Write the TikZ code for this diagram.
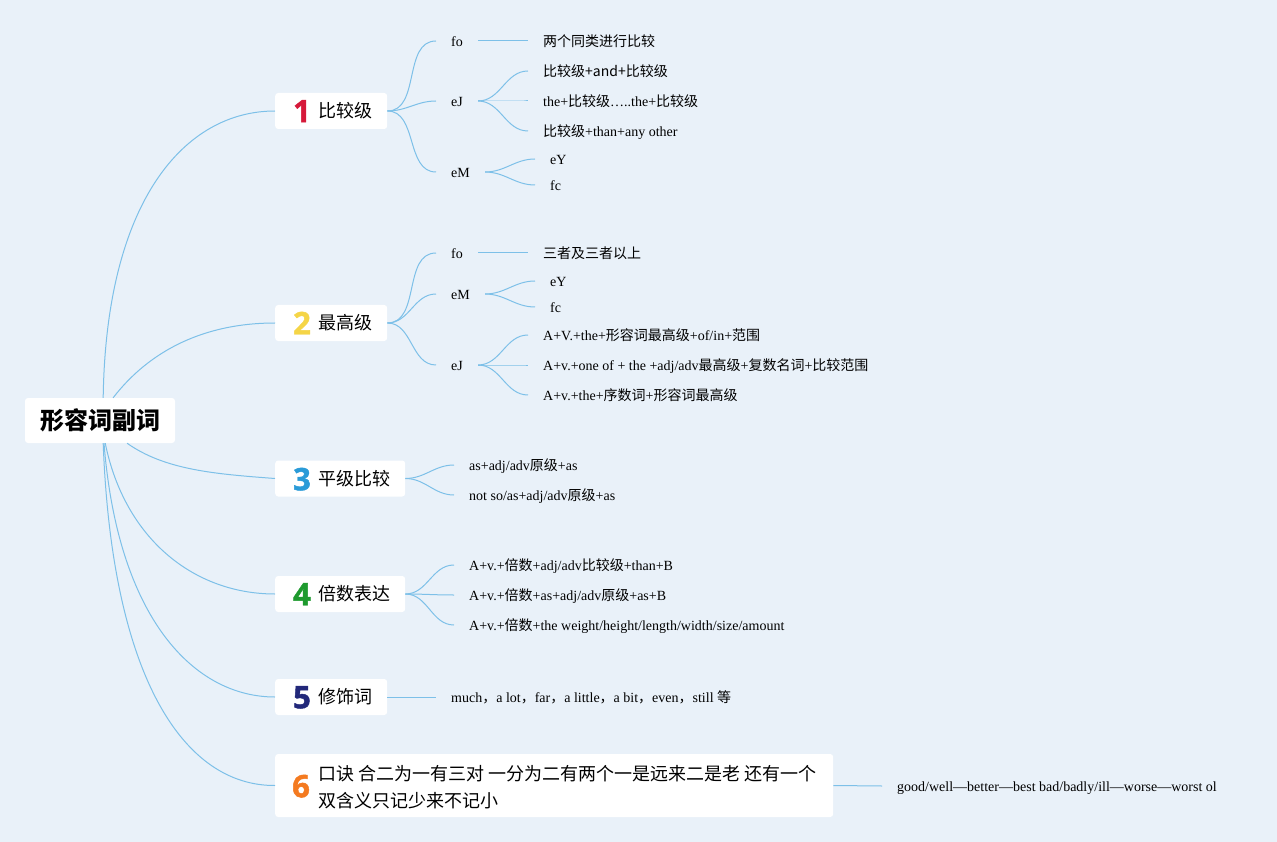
\documentclass[tikz,border=0pt]{standalone}
\usepackage{fontspec}
\setmainfont{Liberation Serif}
\newfontfamily\cjk{Noto Sans CJK SC}
\newfontfamily\numf{Open Sans}[BoldFeatures={FakeBold=1.5}]
\newcommand\zh[1]{{\cjk #1}}
\definecolor{bgc}{RGB}{233,241,249}
\definecolor{linkc}{RGB}{125,192,232}
\definecolor{cone}{RGB}{214,25,58}
\definecolor{ctwo}{RGB}{245,213,71}
\definecolor{cthree}{RGB}{42,155,216}
\definecolor{cfour}{RGB}{30,154,46}
\definecolor{cfive}{RGB}{34,40,122}
\definecolor{csix}{RGB}{244,122,32}
\tikzset{
  box/.style={fill=white, draw=none, rounded corners=3pt, inner sep=0pt, anchor=west, minimum height=36pt},
  numtxt/.style={inner sep=0pt, anchor=center, font=\numf\bfseries\fontsize{31}{31}\selectfont, text height=22.5pt, text depth=0pt},
  boxtxt/.style={inner sep=0pt, anchor=west, font=\cjk\fontsize{18}{22}\selectfont, text height=13.6pt, text depth=0pt},
  leaf/.style={anchor=west, inner xsep=15pt, inner ysep=0pt, font=\fontsize{14}{16}\selectfont, text height=10.4pt, text depth=0pt},
  link/.style={draw=linkc, line width=1pt},
  sbr/.style={link, out=0, in=180}
}
\begin{document}
\begin{tikzpicture}[x=1pt,y=-1pt]
\fill[bgc] (0,0) rectangle (1277,842);
\useasboundingbox (0,0) rectangle (1277,842);

% root
\node[box, anchor=center, minimum width=150pt, minimum height=45pt, font=\cjk\bfseries\fontsize{24}{28}\selectfont] (root) at (100,420.5) {形容词副词};

% main boxes
\node[box, minimum width=112pt] (b1) at (275,111) {};
\node[box, minimum width=112pt] (b2) at (275,323) {};
\node[box, minimum width=130pt] (b3) at (275,478.5) {};
\node[box, minimum width=130pt] (b4) at (275,594) {};
\node[box, minimum width=112pt] (b5) at (275,697) {};
\node[box, minimum width=558pt, minimum height=63pt] (b6) at (275,785.5) {};

\node[numtxt, text=cone] (n1) at (302,111) {1};
\node[numtxt, text=ctwo] (n2) at (302,323) {2};
\node[numtxt, text=cthree] (n3) at (302,479) {3};
\node[numtxt, text=cfour] (n4) at (302,594) {4};
\node[numtxt, text=cfive] (n5) at (302,697) {5};
\node[numtxt, text=csix] (n6) at (301,786) {6};

\node[boxtxt] (t1) at (318,111) {比较级};
\node[boxtxt] (t2) at (318,323) {最高级};
\node[boxtxt] (t3) at (318,479) {平级比较};
\node[boxtxt] (t4) at (318,594) {倍数表达};
\node[boxtxt] (t5) at (318,697) {修饰词};
\node[inner sep=0pt, anchor=base west, align=left, font=\cjk\fontsize{18}{27}\selectfont] (t6) at (318,807.5) {口诀 合二为一有三对 一分为二有两个一是远来二是老 还有一个\\双含义只记少来不记小};

% root connectors
\draw[link] (root.82) .. controls (106,200) and (185,111) .. (b1.west);
\draw[link] (root.60) .. controls (150,350) and (205,323) .. (b2.west);
\draw[link] (root.-40) .. controls (165,470) and (215,474) .. (b3.west);
\draw[link] (root.-77) .. controls (125,540) and (195,594) .. (b4.west);
\draw[link] (root.-80) .. controls (118,620) and (195,697) .. (b5.west);
\draw[link] (root.-82) .. controls (112,680) and (185,786) .. (b6.west);

% branch 1
\node[leaf] (f1) at (436,41) {fo};
\node[leaf] (j1) at (436,101) {eJ};
\node[leaf] (m1) at (436,172) {eM};
\draw[sbr] (b1.east) to (f1.west);
\draw[sbr] (b1.east) to (j1.west);
\draw[sbr] (b1.east) to (m1.west);
\node[leaf] (f1a) at (528,41) {\zh{两个同类进行比较}};
\draw[link] (f1.east) -- (f1a.west);
\node[leaf] (j1a) at (528,71) {\zh{比较级+and+比较级}};
\node[leaf] (j1b) at (528,101) {the+\zh{比较级}…..the+\zh{比较级}};
\node[leaf] (j1c) at (528,131) {\zh{比较级}+than+any other};
\draw[sbr] (j1.east) to (j1a.west);
\draw[sbr] (j1.east) to (j1b.west);
\draw[sbr] (j1.east) to (j1c.west);
\node[leaf] (m1a) at (535,159) {eY};
\node[leaf] (m1b) at (535,185) {fc};
\draw[sbr] (m1.east) to (m1a.west);
\draw[sbr] (m1.east) to (m1b.west);

% branch 2
\node[leaf] (f2) at (436,253) {fo};
\node[leaf] (m2) at (436,294) {eM};
\node[leaf] (j2) at (436,365) {eJ};
\draw[sbr] (b2.east) to (f2.west);
\draw[sbr] (b2.east) to (m2.west);
\draw[sbr] (b2.east) to (j2.west);
\node[leaf] (f2a) at (528,253) {\zh{三者及三者以上}};
\draw[link] (f2.east) -- (f2a.west);
\node[leaf] (m2a) at (535,281) {eY};
\node[leaf] (m2b) at (535,307) {fc};
\draw[sbr] (m2.east) to (m2a.west);
\draw[sbr] (m2.east) to (m2b.west);
\node[leaf] (j2a) at (528,335) {A+V.+the+\zh{形容词最高级}+of/in+\zh{范围}};
\node[leaf] (j2b) at (528,365) {A+v.+one of + the +adj/adv\zh{最高级}+\zh{复数名词}+\zh{比较范围}};
\node[leaf] (j2c) at (528,395) {A+v.+the+\zh{序数词}+\zh{形容词最高级}};
\draw[sbr] (j2.east) to (j2a.west);
\draw[sbr] (j2.east) to (j2b.west);
\draw[sbr] (j2.east) to (j2c.west);

% branch 3
\node[leaf] (p3a) at (454,465) {as+adj/adv\zh{原级}+as};
\node[leaf] (p3b) at (454,495) {not so/as+adj/adv\zh{原级}+as};
\draw[sbr] (b3.east) to (p3a.west);
\draw[sbr] (b3.east) to (p3b.west);

% branch 4
\node[leaf] (p4a) at (454,565) {A+v.+\zh{倍数}+adj/adv\zh{比较级}+than+B};
\node[leaf] (p4b) at (454,595) {A+v.+\zh{倍数}+as+adj/adv\zh{原级}+as+B};
\node[leaf] (p4c) at (454,625) {A+v.+\zh{倍数}+the weight/height/length/width/size/amount};
\draw[sbr] (b4.east) to (p4a.west);
\draw[sbr] (b4.east) to (p4b.west);
\draw[sbr] (b4.east) to (p4c.west);

% branch 5
\node[leaf] (p5) at (436,697) {much\zh{，}a lot\zh{，}far\zh{，}a little\zh{，}a bit\zh{，}even\zh{，}still \zh{等}};
\draw[link] (b5.east) -- (p5.west);

% branch 6
\node[leaf] (p6) at (882,786) {good/well—better—best bad/badly/ill—worse—worst ol};
\draw[link] (b6.east) -- (p6.west);
\end{tikzpicture}
\end{document}
